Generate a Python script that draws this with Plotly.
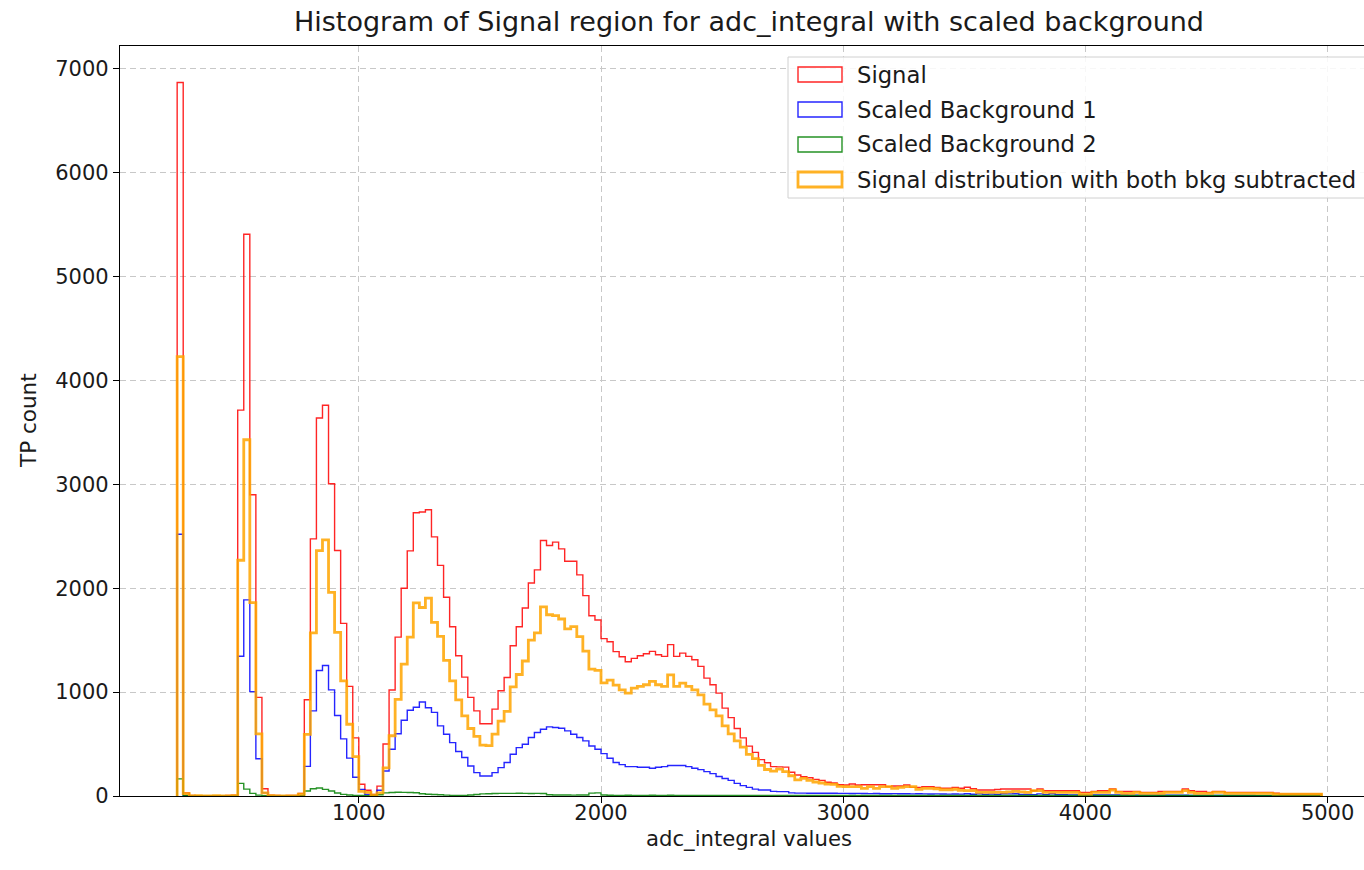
import numpy as np
import plotly.graph_objects as go

# ---------------- data ----------------
BIN_START = 250
BIN_WIDTH = 25

signal = [
    6870, 30, 5, 4, 3, 3, 4, 3, 5, 8,
    3715, 5408, 2900, 950, 70, 8, 5, 4, 5, 6,
    25, 926, 2476, 3640, 3762, 3006, 2363, 1662, 1055, 560,
    113, 55, 16, 95, 500, 1020, 1530, 2000, 2360, 2727,
    2735, 2756, 2495, 2220, 1913, 1630, 1350, 1145, 950, 820,
    695, 695, 836, 1013, 1141, 1447, 1630, 1810, 2051, 2177,
    2460, 2412, 2444, 2379, 2260, 2260, 2129, 1929, 1736, 1695,
    1515, 1485, 1390, 1340, 1292, 1325, 1350, 1370, 1392, 1360,
    1344, 1457, 1344, 1376, 1344, 1312, 1248, 1135, 1071, 990,
    846, 755, 650, 560, 480, 420, 350, 320, 283, 280,
    278, 228, 202, 186, 175, 160, 150, 132, 125, 108,
    106, 116, 106, 109, 109, 109, 109, 90, 96, 96,
    106, 83, 83, 90, 90, 83, 74, 74, 83, 74,
    84, 70, 58, 58, 58, 63, 68, 68, 68, 68,
    68, 51, 68, 51, 51, 51, 51, 51, 51, 35,
    35, 45, 51, 51, 68, 45, 45, 45, 45, 35,
    35, 35, 45, 45, 45, 45, 68, 51, 45, 45,
    35, 45, 45, 35, 35, 35, 35, 35, 35, 35,
    35, 26, 19, 19, 19, 19, 19, 19, 19,
]

background_1 = [
    2520, 5, 2, 1, 1, 1, 1, 1, 2, 3,
    1345, 1888, 1005, 358, 30, 3, 2, 2, 2, 3,
    6, 285, 820, 1208, 1257, 1022, 775, 550, 365, 180,
    64, 16, 5, 55, 240, 450, 600, 730, 825, 855,
    905, 850, 805, 675, 595, 514, 428, 370, 289, 225,
    193, 193, 225, 273, 322, 402, 466, 498, 563, 611,
    643, 666, 659, 652, 627, 595, 563, 531, 482, 450,
    408, 363, 322, 302, 283, 283, 277, 277, 267, 277,
    283, 293, 293, 293, 283, 267, 254, 235, 215, 188,
    168, 150, 122, 100, 83, 66, 58, 58, 45, 42,
    42, 30, 28, 28, 26, 26, 26, 27, 26, 25,
    25, 24, 25, 24, 23, 24, 22, 22, 23, 21,
    21, 20, 21, 20, 19, 20, 19, 18, 19, 18,
    22, 17, 20, 16, 18, 16, 21, 20, 22, 14,
    14, 13, 20, 13, 22, 12, 12, 11, 11, 11,
    10, 10, 10, 9, 9, 9, 9, 8, 8, 8,
    8, 8, 7, 7, 7, 7, 7, 6, 6, 6,
    6, 6, 5, 5, 5, 5, 5, 5, 4, 4,
    4, 4, 4, 4, 3, 3, 3, 3, 3,
]

background_2 = [
    165, 3, 1, 0, 0, 0, 0, 0, 1, 2,
    122, 66, 25, 8, 3, 1, 1, 0, 1, 1,
    2, 48, 70, 77, 64, 48, 29, 16, 10, 5,
    5, 4, 5, 12, 30, 34, 36, 35, 34, 32,
    22, 17, 15, 12, 8, 6, 5, 5, 10, 15,
    20, 22, 24, 25, 25, 25, 26, 25, 24, 25,
    24, 12, 10, 9, 9, 8, 9, 10, 28, 30,
    10, 7, 6, 6, 7, 6, 5, 6, 7, 6,
    6, 7, 6, 5, 6, 6, 5, 6, 5, 6,
    5, 6, 5, 5, 6, 5, 5, 6, 5, 5,
    6, 5, 5, 6, 5, 5, 5, 6, 5, 5,
    5, 6, 5, 5, 5, 6, 5, 5, 6, 5,
    5, 5, 6, 5, 5, 5, 6, 5, 5, 5,
    6, 5, 5, 5, 6, 5, 5, 5, 5, 6,
    5, 5, 5, 5, 6, 5, 5, 5, 5, 5,
    6, 5, 5, 5, 5, 5, 6, 5, 5, 5,
    5, 5, 6, 5, 5, 5, 5, 5, 5, 6,
    5, 5, 5, 5, 5, 5, 6, 5, 5, 5,
    5, 5, 5, 5, 5, 5, 5, 5, 5,
]

subtracted = [
    4230, 22, 2, 3, 2, 2, 3, 2, 2, 3,
    2270, 3430, 1862, 598, 30, 4, 2, 2, 2, 2,
    17, 593, 1570, 2363, 2466, 1961, 1576, 1109, 691, 380,
    45, 34, 7, 30, 270, 580, 930, 1270, 1530, 1860,
    1815, 1905, 1672, 1537, 1305, 1109, 925, 772, 650, 575,
    490, 485, 595, 720, 815, 1050, 1170, 1300, 1500, 1570,
    1820, 1745, 1736, 1704, 1610, 1630, 1535, 1395, 1222, 1210,
    1090, 1115, 1068, 1022, 990, 1039, 1055, 1071, 1103, 1071,
    1055, 1167, 1055, 1087, 1055, 1022, 974, 885, 830, 772,
    675, 598, 530, 470, 400, 360, 295, 255, 240, 258,
    235, 195, 155, 170, 150, 135, 125, 115, 112, 92,
    90, 90, 90, 74, 90, 74, 90, 90, 74, 83,
    90, 90, 64, 74, 74, 70, 60, 60, 65, 55,
    51, 51, 35, 35, 35, 35, 35, 40, 45, 40,
    35, 51, 51, 35, 35, 35, 35, 35, 35, 19,
    19, 35, 35, 35, 58, 35, 26, 26, 35, 26,
    26, 26, 26, 35, 35, 35, 51, 35, 26, 26,
    26, 35, 35, 26, 26, 26, 26, 26, 26, 26,
    26, 19, 19, 19, 19, 19, 19, 19, 19,
]

series_names = [
    "Signal",
    "Scaled Background 1",
    "Scaled Background 2",
    "Signal distribution with both bkg subtracted",
]
series_colors = ["#ff0000", "#0000ff", "#008000", "#ffa500"]
series_widths = [1.4, 1.4, 1.4, 2.8]

x_ticks = [1000, 2000, 3000, 4000, 5000]
y_ticks = [0, 1000, 2000, 3000, 4000, 5000, 6000, 7000]

# ---------------- figure ----------------
W, H = 1364, 870
L, R, T, B = 120, 0, 46, 74
FONT = "DejaVu Sans"
TXT = "#1a1a1a"

n_bins = len(signal)
edges = BIN_START + BIN_WIDTH * np.arange(n_bins + 1)


def step_xy(counts):
    c = np.asarray(counts, dtype=float)
    x = np.concatenate([[edges[0]], edges[:-1], [edges[-1], edges[-1]]])
    y = np.concatenate([[0.0], c, [c[-1], 0.0]])
    return x, y


fig = go.Figure()
for counts, name, color, lw in zip(
    [signal, background_1, background_2, subtracted],
    series_names, series_colors, series_widths,
):
    xs, ys = step_xy(counts)
    fig.add_trace(go.Scatter(
        x=xs, y=ys, mode="lines", name=name,
        line=dict(color=color, width=lw, shape="hv"),
        opacity=0.85, showlegend=False, hoverinfo="skip",
    ))

x_left = 14
x_right = x_left + (W - L - R) / 0.2422
y_top = 7221

axis_common = dict(
    showline=True, linecolor="black", linewidth=1.2, mirror=True,
    ticks="outside", ticklen=6, tickwidth=1.2, tickcolor="black",
    showgrid=True, gridcolor="#c8c8c8", gridwidth=1, griddash="6px,4px",
    zeroline=False, tickfont=dict(family=FONT, size=21, color=TXT),
)
fig.update_xaxes(range=[x_left, x_right], tickvals=x_ticks,
                 ticktext=[str(v) for v in x_ticks], ticklabelstandoff=-8,
                 **axis_common)
fig.update_yaxes(range=[0, y_top], tickvals=y_ticks,
                 ticktext=[str(v) for v in y_ticks], **axis_common)


def px2paper_x(px):
    return (px - L) / (W - L - R)


def px2paper_y(py):
    return (H - B - py) / (H - T - B)


annotations = [
    dict(text="Histogram of Signal region for adc_integral with scaled background",
         x=px2paper_x(749), y=px2paper_y(22), xref="paper", yref="paper",
         xanchor="center", yanchor="middle", showarrow=False,
         font=dict(family=FONT, size=27, color=TXT)),
    dict(text="adc_integral values",
         x=px2paper_x(749), y=px2paper_y(838), xref="paper", yref="paper",
         xanchor="center", yanchor="middle", showarrow=False,
         font=dict(family=FONT, size=21.2, color=TXT)),
    dict(text="TP count", textangle=-90,
         x=px2paper_x(28), y=px2paper_y(421), xref="paper", yref="paper",
         xanchor="center", yanchor="middle", showarrow=False,
         font=dict(family=FONT, size=21.5, color=TXT)),
]

# manual legend (rectangular patch handles like the reference)
shapes = [dict(type="rect", xref="paper", yref="paper",
               x0=px2paper_x(788), x1=px2paper_x(1372),
               y0=px2paper_y(198), y1=px2paper_y(57),
               line=dict(color="#d0d0d0", width=1),
               fillcolor="rgba(255,255,255,0.85)", layer="above")]
row_y = [74.5, 109.5, 144.5, 179.5]
for name, color, lw, ry in zip(series_names, series_colors, series_widths, row_y):
    shapes.append(dict(type="rect", xref="paper", yref="paper",
                       x0=px2paper_x(798), x1=px2paper_x(842),
                       y0=px2paper_y(ry + 7.5), y1=px2paper_y(ry - 7.5),
                       line=dict(color=color, width=lw), opacity=0.85,
                       fillcolor="rgba(0,0,0,0)", layer="above"))
    annotations.append(dict(text=name, x=px2paper_x(855), y=px2paper_y(ry),
                            xref="paper", yref="paper", xanchor="left",
                            yanchor="middle", showarrow=False,
                            font=dict(family=FONT, size=22.7, color=TXT)))

fig.update_layout(
    width=W, height=H,
    margin=dict(l=L, r=R, t=T, b=B, pad=0),
    paper_bgcolor="white", plot_bgcolor="white",
    showlegend=False,
    annotations=annotations, shapes=shapes,
    font=dict(family=FONT),
)

fig.write_html("out.html")
